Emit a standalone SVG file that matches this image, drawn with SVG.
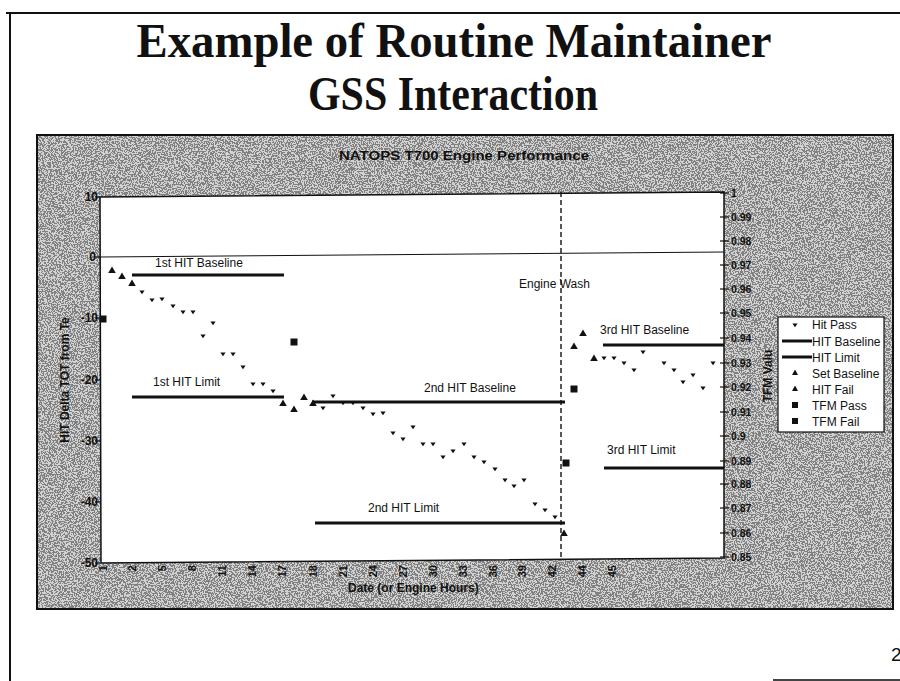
<svg xmlns="http://www.w3.org/2000/svg" xmlns:xlink="http://www.w3.org/1999/xlink" width="900" height="681" viewBox="0 0 900 681">
  <style>
    .title { font-family: "Liberation Serif", "Times New Roman", serif; font-weight: bold; font-size: 48px; fill: #111; }
    .ax { font-family: "Liberation Sans", Arial, sans-serif; font-weight: bold; font-size: 12px; fill: #111; }
    .axr { font-family: "Liberation Sans", Arial, sans-serif; font-weight: bold; font-size: 10.5px; fill: #111; }
    .xl { font-family: "Liberation Sans", Arial, sans-serif; font-weight: bold; font-size: 11px; fill: #111; }
    .lbl { font-family: "Liberation Sans", Arial, sans-serif; font-size: 12px; fill: #111; }
    .leg { font-family: "Liberation Sans", Arial, sans-serif; font-size: 12px; fill: #111; }
    .thick { stroke: #111; stroke-width: 3; fill: none; }
    .tick { stroke: #111; stroke-width: 1.2; }
  </style>
  <defs>
    <!-- halftone grain for the chart backdrop -->
    <filter id="grain" x="0" y="0" width="100%" height="100%" filterUnits="objectBoundingBox">
      <feTurbulence type="fractalNoise" baseFrequency="0.7" numOctaves="2" seed="7" result="n"/>
      <feColorMatrix in="n" type="matrix" values="0 0 0 0 0  0 0 0 0 0  0 0 0 0 0  1 0 0 0 0" result="a"/>
      <feComponentTransfer in="a">
        <feFuncA type="discrete" tableValues="0 0 0 0 0 0 0 0 0 0 1 1 1 1 1 1 1 1 1 1"/>
      </feComponentTransfer>
    </filter>
    <path id="pass" d="M-2.6,-1.6 L2.6,-1.6 L0,2.2 Z" fill="#111"/>
    <path id="tri" d="M0,-3.6 L3.8,3 L-3.8,3 Z" fill="#111"/>
    <rect id="sq" x="-3.5" y="-3.5" width="7" height="7" fill="#111"/>
  </defs>

  <rect x="0" y="0" width="900" height="681" fill="#ffffff"/>

  <!-- page frame -->
  <g id="page-frame">
    <line x1="6" y1="13" x2="900" y2="13" stroke="#111" stroke-width="2"/>
    <line x1="10" y1="13" x2="10" y2="681" stroke="#111" stroke-width="2"/>
    <line x1="773" y1="680" x2="900" y2="680" stroke="#444" stroke-width="2"/>
  </g>

  <!-- slide title -->
  <g id="title">
    <text class="title" x="454" y="57" text-anchor="middle" textLength="635" lengthAdjust="spacingAndGlyphs">Example of Routine Maintainer</text>
    <text class="title" x="453" y="110" text-anchor="middle" textLength="290" lengthAdjust="spacingAndGlyphs">GSS Interaction</text>
  </g>

  <!-- chart backdrop -->
  <g id="chart-panel">
    <rect x="37" y="135" width="856" height="474" fill="#d2d2d2"/>
    <rect x="37" y="135" width="856" height="474" fill="#000" filter="url(#grain)" opacity="0.38"/>
    <rect x="37" y="135" width="856" height="474" fill="none" stroke="#111" stroke-width="2"/>
    <text class="ax" x="464" y="160" text-anchor="middle" textLength="250" lengthAdjust="spacingAndGlyphs" font-size="13">NATOPS T700 Engine Performance</text>
  </g>

  <!-- plot area -->
  <g id="plot-area">
    <path d="M100,197 L724,192 L724,558 L101,563 Z" fill="#ffffff" stroke="#111" stroke-width="1.5"/>
    <line x1="100" y1="257" x2="724" y2="252" stroke="#111" stroke-width="1"/>
  </g>

  <!-- left axis -->
  <g id="axis-left">
    <g class="tick">
      <line x1="95" y1="197" x2="100" y2="197"/>
      <line x1="95" y1="257" x2="100" y2="257"/>
      <line x1="95" y1="318" x2="100" y2="318"/>
      <line x1="95" y1="380" x2="100" y2="380"/>
      <line x1="95" y1="441" x2="100" y2="441"/>
      <line x1="95" y1="502" x2="100" y2="502"/>
      <line x1="95" y1="563" x2="100" y2="563"/>
    </g>
    <text class="ax" x="98" y="201" text-anchor="end">10</text>
    <text class="ax" x="96" y="261" text-anchor="end">0</text>
    <text class="ax" x="98" y="322" text-anchor="end">-10</text>
    <text class="ax" x="98" y="384" text-anchor="end">-20</text>
    <text class="ax" x="98" y="445" text-anchor="end">-30</text>
    <text class="ax" x="98" y="506" text-anchor="end">-40</text>
    <text class="ax" x="98" y="567" text-anchor="end">-50</text>
    <text class="ax" transform="translate(69,380) rotate(-90)" text-anchor="middle">HIT Delta TOT from Te</text>
  </g>

  <!-- right axis -->
  <g id="axis-right">
    <g class="tick">
      <line x1="720" y1="193" x2="729" y2="193"/>
      <line x1="720" y1="217" x2="729" y2="217"/>
      <line x1="720" y1="241" x2="729" y2="241"/>
      <line x1="720" y1="265" x2="729" y2="265"/>
      <line x1="720" y1="289" x2="729" y2="289"/>
      <line x1="720" y1="313" x2="729" y2="313"/>
      <line x1="720" y1="338" x2="729" y2="338"/>
      <line x1="720" y1="363" x2="729" y2="363"/>
      <line x1="720" y1="387" x2="729" y2="387"/>
      <line x1="720" y1="412" x2="729" y2="412"/>
      <line x1="720" y1="436" x2="729" y2="436"/>
      <line x1="720" y1="461" x2="729" y2="461"/>
      <line x1="720" y1="484" x2="729" y2="484"/>
      <line x1="720" y1="508" x2="729" y2="508"/>
      <line x1="720" y1="533" x2="729" y2="533"/>
      <line x1="720" y1="557" x2="729" y2="557"/>
    </g>
    <text class="axr" x="731" y="197">1</text>
    <text class="axr" x="731" y="221">0.99</text>
    <text class="axr" x="731" y="245">0.98</text>
    <text class="axr" x="731" y="269">0.97</text>
    <text class="axr" x="731" y="293">0.96</text>
    <text class="axr" x="731" y="317">0.95</text>
    <text class="axr" x="731" y="342">0.94</text>
    <text class="axr" x="731" y="367">0.93</text>
    <text class="axr" x="731" y="391">0.92</text>
    <text class="axr" x="731" y="416">0.91</text>
    <text class="axr" x="731" y="440">0.9</text>
    <text class="axr" x="731" y="465">0.89</text>
    <text class="axr" x="731" y="488">0.88</text>
    <text class="axr" x="731" y="512">0.87</text>
    <text class="axr" x="731" y="537">0.86</text>
    <text class="axr" x="731" y="561">0.85</text>
    <text class="ax" font-size="11" transform="translate(772,376) rotate(-90)" text-anchor="middle">TFM Valu</text>
  </g>

  <!-- bottom axis -->
  <g id="axis-bottom">
    <text class="xl" transform="translate(107,565) rotate(-90)" text-anchor="end">1</text>
    <text class="xl" transform="translate(136,565) rotate(-90)" text-anchor="end">2</text>
    <text class="xl" transform="translate(166,565) rotate(-90)" text-anchor="end">5</text>
    <text class="xl" transform="translate(196,565) rotate(-90)" text-anchor="end">8</text>
    <text class="xl" transform="translate(226,565) rotate(-90)" text-anchor="end">11</text>
    <text class="xl" transform="translate(256,565) rotate(-90)" text-anchor="end">14</text>
    <text class="xl" transform="translate(286,565) rotate(-90)" text-anchor="end">17</text>
    <text class="xl" transform="translate(317,565) rotate(-90)" text-anchor="end">18</text>
    <text class="xl" transform="translate(347,565) rotate(-90)" text-anchor="end">21</text>
    <text class="xl" transform="translate(377,565) rotate(-90)" text-anchor="end">24</text>
    <text class="xl" transform="translate(407,565) rotate(-90)" text-anchor="end">27</text>
    <text class="xl" transform="translate(437,565) rotate(-90)" text-anchor="end">30</text>
    <text class="xl" transform="translate(467,565) rotate(-90)" text-anchor="end">33</text>
    <text class="xl" transform="translate(497,565) rotate(-90)" text-anchor="end">36</text>
    <text class="xl" transform="translate(526,565) rotate(-90)" text-anchor="end">39</text>
    <text class="xl" transform="translate(556,565) rotate(-90)" text-anchor="end">42</text>
    <text class="xl" transform="translate(586,565) rotate(-90)" text-anchor="end">44</text>
    <text class="xl" transform="translate(616,565) rotate(-90)" text-anchor="end">45</text>
    <text class="ax" x="348" y="592">Date (or Engine Hours)</text>
  </g>

  <!-- baseline and limit lines -->
  <g id="reference-lines">
    <line class="thick" x1="132" y1="275" x2="284" y2="275"/>
    <line class="thick" x1="132" y1="397" x2="284" y2="397"/>
    <line class="thick" x1="312" y1="402" x2="565" y2="402"/>
    <line class="thick" x1="315" y1="523" x2="565" y2="523"/>
    <line class="thick" x1="603" y1="345" x2="724" y2="345"/>
    <line class="thick" x1="604" y1="468" x2="724" y2="468"/>
    <line x1="561" y1="192" x2="561" y2="560" stroke="#111" stroke-width="1.4" stroke-dasharray="5,3"/>
  </g>

  <g id="line-labels">
    <text class="lbl" x="155" y="267">1st HIT Baseline</text>
    <text class="lbl" x="153" y="386">1st HIT Limit</text>
    <text class="lbl" x="424" y="392">2nd HIT Baseline</text>
    <text class="lbl" x="368" y="512">2nd HIT Limit</text>
    <text class="lbl" x="600" y="334">3rd HIT Baseline</text>
    <text class="lbl" x="607" y="454">3rd HIT Limit</text>
    <text class="lbl" x="519" y="288">Engine Wash</text>
  </g>

  <!-- Hit Pass points -->
  <g id="series-hit-pass">
    <use xlink:href="#pass" x="142" y="292"/>
    <use xlink:href="#pass" x="152" y="300"/>
    <use xlink:href="#pass" x="162" y="299"/>
    <use xlink:href="#pass" x="173" y="306"/>
    <use xlink:href="#pass" x="183" y="312"/>
    <use xlink:href="#pass" x="193" y="312"/>
    <use xlink:href="#pass" x="203" y="336"/>
    <use xlink:href="#pass" x="213" y="323"/>
    <use xlink:href="#pass" x="223" y="354"/>
    <use xlink:href="#pass" x="233" y="354"/>
    <use xlink:href="#pass" x="243" y="367"/>
    <use xlink:href="#pass" x="253" y="384"/>
    <use xlink:href="#pass" x="263" y="384"/>
    <use xlink:href="#pass" x="273" y="391"/>
    <use xlink:href="#pass" x="323" y="408"/>
    <use xlink:href="#pass" x="333" y="396"/>
    <use xlink:href="#pass" x="343" y="403"/>
    <use xlink:href="#pass" x="353" y="403"/>
    <use xlink:href="#pass" x="363" y="408"/>
    <use xlink:href="#pass" x="373" y="414"/>
    <use xlink:href="#pass" x="383" y="413"/>
    <use xlink:href="#pass" x="393" y="433"/>
    <use xlink:href="#pass" x="403" y="439"/>
    <use xlink:href="#pass" x="413" y="427"/>
    <use xlink:href="#pass" x="423" y="444"/>
    <use xlink:href="#pass" x="433" y="444"/>
    <use xlink:href="#pass" x="443" y="457"/>
    <use xlink:href="#pass" x="453" y="451"/>
    <use xlink:href="#pass" x="464" y="444"/>
    <use xlink:href="#pass" x="474" y="457"/>
    <use xlink:href="#pass" x="484" y="462"/>
    <use xlink:href="#pass" x="495" y="469"/>
    <use xlink:href="#pass" x="505" y="480"/>
    <use xlink:href="#pass" x="514" y="486"/>
    <use xlink:href="#pass" x="524" y="480"/>
    <use xlink:href="#pass" x="535" y="504"/>
    <use xlink:href="#pass" x="545" y="510"/>
    <use xlink:href="#pass" x="555" y="517"/>
    <use xlink:href="#pass" x="604" y="358"/>
    <use xlink:href="#pass" x="614" y="358"/>
    <use xlink:href="#pass" x="624" y="363"/>
    <use xlink:href="#pass" x="634" y="370"/>
    <use xlink:href="#pass" x="643" y="352"/>
    <use xlink:href="#pass" x="664" y="363"/>
    <use xlink:href="#pass" x="674" y="370"/>
    <use xlink:href="#pass" x="683" y="382"/>
    <use xlink:href="#pass" x="693" y="375"/>
    <use xlink:href="#pass" x="703" y="388"/>
    <use xlink:href="#pass" x="713" y="363"/>
  </g>

  <!-- baseline-set and fail points -->
  <g id="series-triangles">
    <use xlink:href="#tri" x="112" y="270"/>
    <use xlink:href="#tri" x="122" y="276"/>
    <use xlink:href="#tri" x="132" y="283"/>
    <use xlink:href="#tri" x="283" y="403"/>
    <use xlink:href="#tri" x="294" y="409"/>
    <use xlink:href="#tri" x="304" y="397"/>
    <use xlink:href="#tri" x="313" y="403"/>
    <use xlink:href="#tri" x="564" y="533"/>
    <use xlink:href="#tri" x="574" y="346"/>
    <use xlink:href="#tri" x="583" y="333"/>
    <use xlink:href="#tri" x="594" y="358"/>
  </g>

  <!-- TFM points -->
  <g id="series-tfm">
    <use xlink:href="#sq" x="103" y="319"/>
    <use xlink:href="#sq" x="294" y="342"/>
    <use xlink:href="#sq" x="566" y="463"/>
    <use xlink:href="#sq" x="574" y="389"/>
  </g>

  <!-- legend -->
  <g id="legend">
    <rect x="778" y="317" width="106" height="115" fill="#ffffff" stroke="#111" stroke-width="1.2"/>
    <use xlink:href="#pass" x="795" y="325"/>
    <line class="thick" x1="782" y1="341" x2="812" y2="341" stroke-width="2.5"/>
    <line class="thick" x1="782" y1="357" x2="812" y2="357" stroke-width="2.5"/>
    <path d="M795,369.5 L798,375 L792,375 Z" fill="#111"/>
    <path d="M795,385.5 L798,391 L792,391 Z" fill="#111"/>
    <rect x="792" y="402" width="6" height="6" fill="#111"/>
    <rect x="792" y="418" width="6" height="6" fill="#111"/>
    <text class="leg" x="812" y="329">Hit Pass</text>
    <text class="leg" x="812" y="346">HIT Baseline</text>
    <text class="leg" x="812" y="362">HIT Limit</text>
    <text class="leg" x="812" y="378">Set Baseline</text>
    <text class="leg" x="812" y="394">HIT Fail</text>
    <text class="leg" x="812" y="410">TFM Pass</text>
    <text class="leg" x="812" y="426">TFM Fail</text>
  </g>

  <text x="891" y="661" font-family="Liberation Sans, Arial, sans-serif" font-size="19" fill="#111">2</text>
</svg>
